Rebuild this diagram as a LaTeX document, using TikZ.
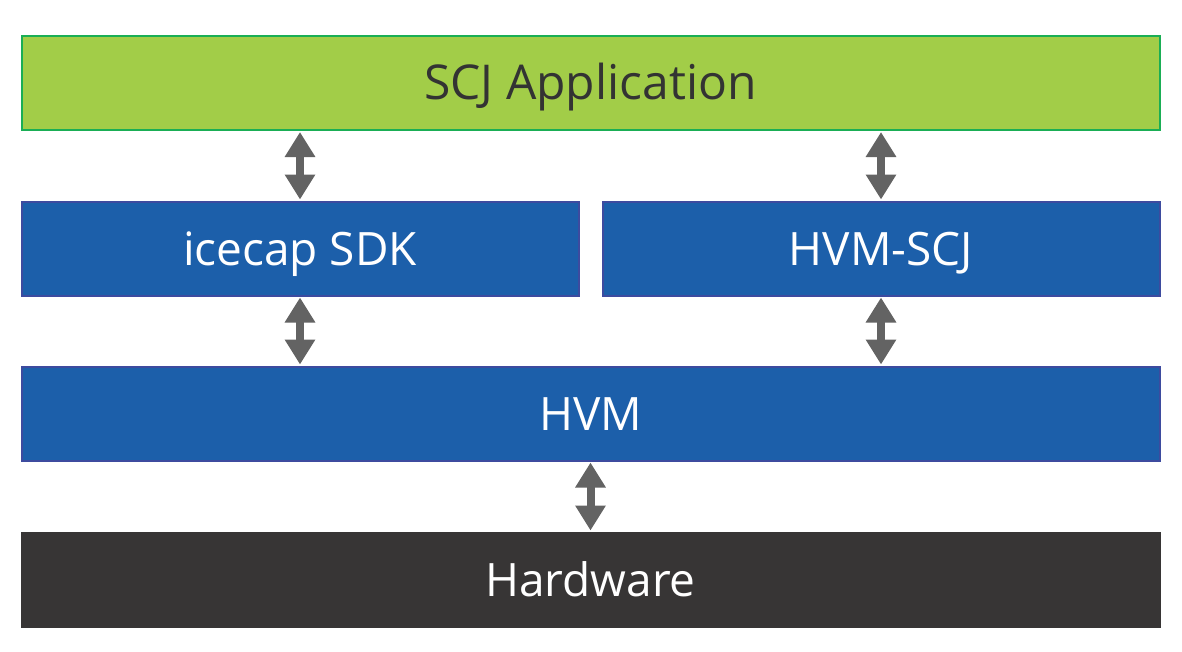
\documentclass[tikz,border=0pt]{standalone}
\usepackage{fontspec}
\setmainfont{Open Sans}
\usetikzlibrary{arrows.meta}
\definecolor{appgreen}{HTML}{A2CD48}
\definecolor{appborder}{HTML}{1AAE55}
\definecolor{layerblue}{HTML}{1C5FAA}
\definecolor{blueborder}{HTML}{3D4B9F}
\definecolor{hwgray}{HTML}{373535}
\definecolor{arrowgray}{HTML}{636363}
\definecolor{darktext}{HTML}{333333}
\tikzset{
  layer/.style={draw, line width=2pt, inner sep=0pt, minimum height=94pt, text height=33pt, text depth=0pt, font=\fontsize{46}{55}\selectfont, text=white},
  bluelayer/.style={layer, fill=layerblue, draw=blueborder},
  link/.style={draw=arrowgray, line width=8pt, {Triangle[length=25pt,width=29pt]}-{Triangle[length=25pt,width=29pt]}, shorten <=1pt, shorten >=1pt}
}
\begin{document}
\begin{tikzpicture}[x=1pt,y=-1pt]
\useasboundingbox (0,0) rectangle (1182,651);
\node[layer, fill=appgreen, draw=appborder, text=darktext, minimum width=1138pt, font=\fontsize{48}{56}\selectfont] (app) at (590.5,83) {SCJ Application};
\node[bluelayer, minimum width=557pt] (sdk) at (300,248.5) {icecap SDK};
\node[bluelayer, minimum width=557pt] (hvmscj) at (881,248.5) {HVM-SCJ};
\node[bluelayer, minimum width=1138pt] (hvm) at (590.5,413.5) {HVM};
\node[layer, fill=hwgray, draw=hwgray, minimum width=1138pt] (hw) at (590.5,579.5) {Hardware};
\draw[link] (app.south -| sdk.north) -- (sdk.north);
\draw[link] (app.south -| hvmscj.north) -- (hvmscj.north);
\draw[link] (sdk.south) -- (sdk.south |- hvm.north);
\draw[link] (hvmscj.south) -- (hvmscj.south |- hvm.north);
\draw[link] (hvm.south) -- (hw.north);
\end{tikzpicture}
\end{document}
